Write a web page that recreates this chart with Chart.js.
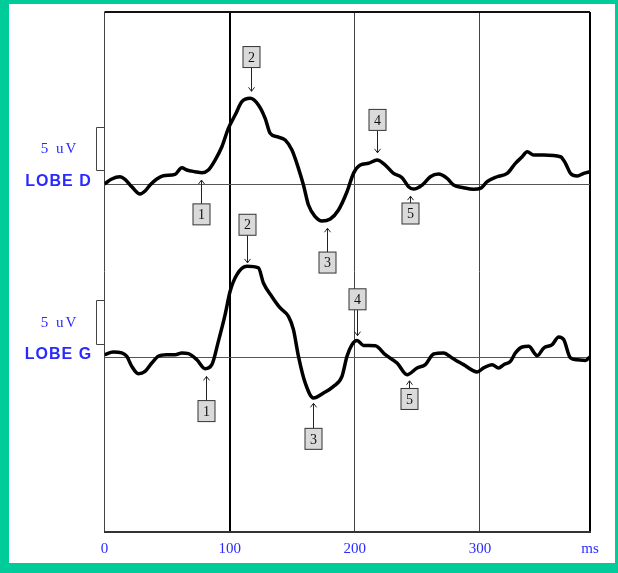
<!DOCTYPE html>
<html>
<head>
<meta charset="utf-8">
<script src="https://cdn.jsdelivr.net/npm/chart.js@4.4.0/dist/chart.umd.min.js"></script>
<style>
  html, body { margin: 0; padding: 0; background: #00cc99; width: 618px; height: 573px; overflow: hidden; }
  #frame { position: absolute; left: 9px; top: 4px; width: 606px; height: 559px; background: #fff; }
  canvas { display: block; }
</style>
</head>
<body>
<div id="frame"><canvas id="ep" width="606" height="559"></canvas></div>
<script>
// Time axis (ms) and tick values
const xTicks = [0, 100, 200, 300];
const xMax = 388;

// LOBE D trace: time (ms) / amplitude (uV, relative to its baseline)
const timeD = [0, 5.8, 12.4, 16.4, 21.8, 28.4, 32.4, 36.4, 41.8, 47.0, 56.4, 61.8, 65.8, 72.4, 77.8, 83.0,
  88.4, 93.8, 99.0, 104.4, 109.8, 116.4, 123.0, 128.4, 132.4, 137.8, 144.4, 149.8, 155.0, 159.0, 163.0,
  168.4, 173.8, 180.4, 187.0, 193.8, 199.0, 204.4, 211.0, 217.8, 224.4, 231.0, 237.8, 243.0, 247.0,
  253.8, 260.4, 267.0, 273.8, 279.0, 287.0, 295.0, 300.4, 305.8, 313.8, 321.8, 328.4, 333.8, 337.8,
  343.0, 351.0, 364.4, 368.4, 372.4, 377.8, 383.0, 388];
const lobeD = [0, 0.58, 0.84, 0.54, -0.31, -1.15, -0.81, -0.12, 0.58, 0.96, 1.12, 1.88, 1.62, 1.42, 1.30, 1.62,
  2.77, 4.30, 6.43, 7.96, 9.50, 9.89, 9.12, 7.58, 5.85, 5.46, 5.08, 3.92, 1.81, -0.12, -2.42,
  -3.77, -4.27, -4.04, -3.0, -0.89, 1.23, 2.19, 2.39, 2.77, 2.19, 1.23, 0.73, -0.31, -0.58,
  -0.12, 0.84, 1.15, 0.66, -0.12, -0.43, -0.61, -0.50, 0.27, 0.84, 1.23, 2.39, 3.15, 3.73,
  3.35, 3.35, 3.15, 2.39, 1.23, 0.92, 1.23, 1.42];

// LOBE G trace
const timeG = [0, 7.0, 13.8, 17.8, 21.8, 27.0, 32.4, 37.8, 43.0, 49.8, 56.4, 61.8, 67.0, 73.8, 80.4, 85.8,
  91.0, 96.4, 100.4, 105.8, 113.8, 123.0, 127.0, 133.8, 140.4, 147.0, 151.0, 155.0, 160.4, 167.0,
  175.0, 183.0, 189.8, 193.8, 197.8, 201.8, 207.0, 216.4, 224.4, 233.8, 241.8, 249.8, 256.4, 263.0,
  271.0, 277.8, 287.0, 297.8, 303.0, 309.8, 315.0, 319.0, 324.4, 328.4, 333.8, 339.0, 345.8, 351.0,
  357.8, 363.0, 367.0, 372.4, 377.8, 384.4, 388];
const lobeG = [0.31, 0.62, 0.51, 0.12, -1.04, -1.88, -1.62, -0.65, 0.12, 0.31, 0.31, 0.51, 0.43, -0.27, -1.30, -0.84,
  1.85, 4.93, 7.62, 9.54, 10.50, 10.32, 8.58, 7.0, 5.70, 4.73, 3.20, 0.12, -2.95, -4.68,
  -4.11, -3.35, -2.19, 0.12, 1.47, 1.96, 1.38, 1.35, 0.31, -0.65, -2.0, -1.22, -0.84, 0.39,
  0.51, -0.07, -0.84, -1.68, -1.22, -0.84, -1.22, -0.84, -0.46, 0.51, 1.20, 1.27, 0.20, 1.08,
  1.47, 2.35, 2.04, -0.07, -0.27, -0.35, 0.05];

// Peak markers 1..5: time, arrow tip and box centre (uV)
const peakLabels = ['1', '2', '3', '4', '5'];
const peakTimeD = [77.2, 116.8, 177.8, 217.8, 244.4];
const peakTipD = [0.46, 10.7, -5.1, 3.6, -1.4];
const peakBoxD = [-3.5, 14.65, -9.06, 7.4, -3.4];
const peakTimeG = [81.2, 113.8, 166.6, 201.8, 243.0];
const peakTipG = [-2.2, 10.9, -5.3, 2.5, -2.7];
const peakBoxG = [-6.2, 15.3, -9.4, 6.7, -4.8];

// channel names, baseline offsets and calibration bar
const channels = ['LOBE D', 'LOBE G'];
const offsets = [0, -20];
const calLabel = '5 uV';
const calBar = [1.6, 6.6];

const blue = '#2a2aff';

function toPoints(t, v, off) {
    return t.map((x, i) => ({ x: x, y: v[i] + off }));
}

const overlay = {
    id: 'overlay',
    beforeDatasetsDraw(chart) {
        const { ctx, chartArea: a, scales: { y } } = chart;
        ctx.save();
        ctx.strokeStyle = '#555';
        ctx.lineWidth = 1;
        offsets.forEach(o => {
            const py = Math.round(y.getPixelForValue(o)) + 0.5;
            ctx.beginPath();
            ctx.moveTo(a.left, py);
            ctx.lineTo(a.right, py);
            ctx.stroke();
        });
        ctx.restore();
    },
    afterDatasetsDraw(chart) {
        const { ctx, scales: { x, y } } = chart;
        const sets = [[peakTimeD, peakTipD, peakBoxD], [peakTimeG, peakTipG, peakBoxG]];
        ctx.save();
        sets.forEach((s, c) => {
            s[0].forEach((t, i) => {
                const px = Math.round(x.getPixelForValue(t)) + 0.5;
                const tip = y.getPixelForValue(s[1][i] + offsets[c]);
                const box = y.getPixelForValue(s[2][i] + offsets[c]);
                const w = 17, h = 21;
                const down = tip > box;
                const edge = down ? box + h / 2 : box - h / 2;
                ctx.strokeStyle = '#222';
                ctx.lineWidth = 1;
                ctx.beginPath();
                ctx.moveTo(px, edge);
                ctx.lineTo(px, tip);
                const d = down ? -4 : 4;
                ctx.moveTo(px - 3, tip + d);
                ctx.lineTo(px, tip);
                ctx.lineTo(px + 3, tip + d);
                ctx.stroke();
                ctx.fillStyle = '#dadada';
                ctx.fillRect(px - w / 2, box - h / 2, w, h);
                ctx.strokeStyle = '#333';
                ctx.strokeRect(px - w / 2, box - h / 2, w, h);
                ctx.fillStyle = '#111';
                ctx.font = '14px "Liberation Serif"';
                ctx.textAlign = 'center';
                ctx.textBaseline = 'middle';
                ctx.fillText(peakLabels[i], px, box + 1);
            });
        });
        ctx.restore();
    },
    afterDraw(chart) {
        const { ctx, chartArea: a, scales: { y } } = chart;
        ctx.save();
        // top edge of the frame
        ctx.strokeStyle = '#111';
        ctx.lineWidth = 2;
        ctx.beginPath();
        ctx.moveTo(a.left, a.top);
        ctx.lineTo(a.right, a.top);
        ctx.stroke();
        channels.forEach((name, c) => {
            const base = y.getPixelForValue(offsets[c]);
            const t = Math.round(y.getPixelForValue(offsets[c] + calBar[1])) + 0.5;
            const b = Math.round(y.getPixelForValue(offsets[c] + calBar[0])) + 0.5;
            ctx.strokeStyle = '#444';
            ctx.lineWidth = 1;
            ctx.beginPath();
            ctx.moveTo(a.left, t);
            ctx.lineTo(a.left - 8, t);
            ctx.lineTo(a.left - 8, b);
            ctx.lineTo(a.left, b);
            ctx.stroke();
            ctx.fillStyle = blue;
            ctx.textAlign = 'center';
            ctx.textBaseline = 'middle';
            ctx.font = '15px "Liberation Serif"';
            ctx.letterSpacing = '2px';
            ctx.fillText(calLabel, a.left - 45, base - 34.5);
            ctx.font = 'bold 16px "Liberation Sans"';
            ctx.letterSpacing = '1px';
            ctx.fillText(name, a.left - 46, base - 2.5);
        });
        ctx.restore();
    }
};

new Chart(document.getElementById('ep'), {
    type: 'line',
    data: {
        datasets: [
            { label: channels[0], data: toPoints(timeD, lobeD, offsets[0]) },
            { label: channels[1], data: toPoints(timeG, lobeG, offsets[1]) }
        ]
    },
    options: {
        responsive: false,
        animation: false,
        events: [],
        layout: { padding: { left: 95.5, right: 25, top: 8, bottom: -3 } },
        elements: {
            line: { borderColor: '#000', borderWidth: 3.5, cubicInterpolationMode: 'monotone', fill: false },
            point: { radius: 0 }
        },
        plugins: { legend: { display: false }, tooltip: { enabled: false } },
        scales: {
            x: {
                type: 'linear',
                min: 0,
                max: xMax,
                afterBuildTicks: s => { s.ticks = xTicks.concat([xMax]).map(v => ({ value: v })); },
                ticks: {
                    autoSkip: false,
                    maxRotation: 0,
                    padding: 8,
                    color: blue,
                    font: { family: 'Liberation Serif', size: 15 },
                    callback: v => (v === xMax ? 'ms' : String(v))
                },
                grid: {
                    drawTicks: false,
                    color: c => (c.tick && (c.tick.value === 100 || c.tick.value === xMax) ? '#000' : '#444'),
                    lineWidth: c => (c.tick && (c.tick.value === 100 || c.tick.value === xMax) ? 2 : 1)
                },
                border: { color: '#333', width: 2 }
            },
            y: {
                display: false,
                min: -40.15,
                max: 19.85
            }
        }
    },
    plugins: [overlay]
});
</script>
</body>
</html>
